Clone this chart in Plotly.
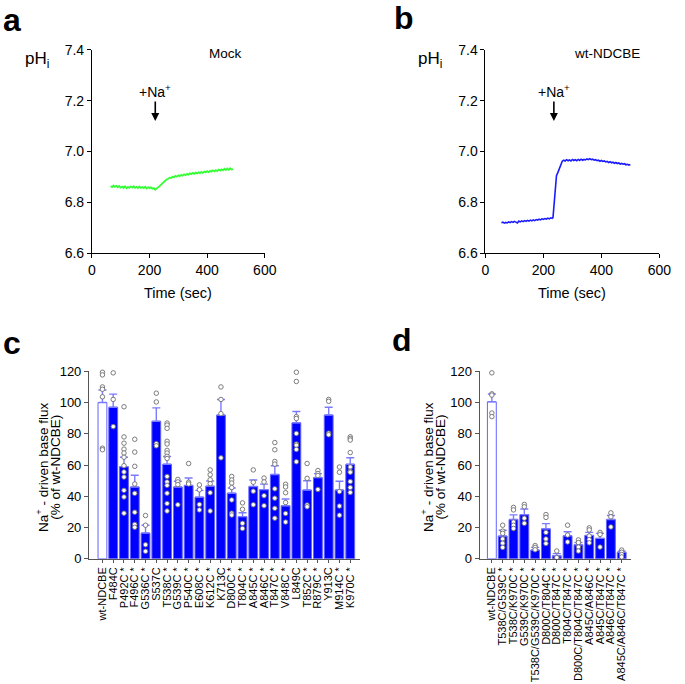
import plotly.graph_objects as go

W, H = 685, 684
FONT = "Liberation Sans, Arial, sans-serif"

# ---------------- Panel a / b : pHi traces ----------------
mock_t = list(range(65, 495, 5))
mock_ph = [6.864, 6.860, 6.866, 6.861, 6.865, 6.859, 6.864, 6.858, 6.862, 6.857,
           6.863, 6.856, 6.861, 6.857, 6.862, 6.858, 6.863, 6.857, 6.861, 6.856,
           6.862, 6.857, 6.860, 6.856, 6.861, 6.855, 6.860, 6.856, 6.859, 6.854,
           6.856, 6.850, 6.855, 6.858, 6.864, 6.870, 6.876, 6.882, 6.886, 6.891,
           6.893, 6.897, 6.896, 6.901, 6.899, 6.904, 6.901, 6.906, 6.903, 6.908,
           6.905, 6.910, 6.907, 6.912, 6.909, 6.914, 6.911, 6.916, 6.912, 6.917,
           6.914, 6.918, 6.915, 6.920, 6.916, 6.921, 6.918, 6.923, 6.919, 6.924,
           6.921, 6.926, 6.922, 6.927, 6.923, 6.929, 6.925, 6.930, 6.926, 6.932,
           6.927, 6.933, 6.928, 6.934, 6.929, 6.931]

wt_t = [55, 60, 65, 70, 75, 80, 85, 90, 95, 100, 105, 110, 115, 120, 125, 130, 135,
        140, 145, 150, 155, 160, 165, 170, 175, 180, 185, 190, 195, 200, 205, 210,
        215, 220, 225, 230, 233, 237, 241, 245, 250, 255, 260, 265, 270, 275, 280,
        285, 290, 295, 300, 305, 310, 315, 320, 325, 330, 335, 340, 345, 350, 355,
        360, 365, 370, 375, 380, 385, 390, 395, 400, 405, 410, 415, 420, 425, 430,
        435, 440, 445, 450, 455, 460, 465, 470, 475, 480, 485, 490, 495, 500]
wt_ph = [6.720, 6.722, 6.718, 6.721, 6.719, 6.723, 6.720, 6.724, 6.721, 6.725,
         6.722, 6.719, 6.726, 6.723, 6.727, 6.724, 6.728, 6.725, 6.729, 6.726,
         6.730, 6.727, 6.731, 6.728, 6.732, 6.730, 6.734, 6.731, 6.735, 6.733,
         6.736, 6.734, 6.738, 6.735, 6.739, 6.737, 6.740, 6.790, 6.850, 6.905,
         6.918, 6.935, 6.952, 6.962, 6.966, 6.963, 6.968, 6.964, 6.967, 6.963,
         6.969, 6.965, 6.968, 6.964, 6.969, 6.965, 6.970, 6.966, 6.969, 6.967,
         6.971, 6.968, 6.972, 6.968, 6.970, 6.966, 6.968, 6.964, 6.966, 6.962,
         6.965, 6.961, 6.963, 6.959, 6.961, 6.957, 6.960, 6.956, 6.958, 6.954,
         6.957, 6.953, 6.955, 6.951, 6.953, 6.950, 6.952, 6.948, 6.950, 6.947, 6.949]

time_ticks = [0, 200, 400, 600]
ph_ticks = [6.6, 6.8, 7.0, 7.2, 7.4]

# ---------------- Panel c ----------------
c_labels = ["wt-NDCBE", "F484C", "P492C *", "F496C *", "G536C *", "S537C", "T538C *",
            "G539C *", "P540C *", "E608C *", "K612C *", "K713C", "D800C *", "T804C *",
            "A845C *", "A846C *", "T847C *", "V848C *", "L849C", "T852C *", "R879C *",
            "Y913C", "M914C *", "K970C *"]
c_means = [100, 97, 59, 46, 16.5, 88, 60.5, 46, 47, 39.5, 46.5, 92, 42, 27, 46.3,
           44.3, 54, 34, 87, 44, 52, 92, 44, 60.5]
c_sem = [8, 8.4, 6, 7.5, 5, 8.6, 5, 3.6, 4.7, 4.3, 3.3, 10, 3.3, 2.5, 4.1, 3.5, 5.6,
         4.3, 7.3, 6, 2.5, 5, 5.6, 4.2]
c_points = [
    [119.4, 117.7, 110, 108.5, 103.7, 70.8, 69.8],
    [119, 102, 84.6],
    [97.3, 78, 74, 70.2, 67.7, 65, 59.6, 55.6, 52.3, 43.8, 39.6, 29.2],
    [76.5, 68.3, 59.2, 47.9, 41.9, 29.8, 22, 20.2],
    [27.7, 21.5, 9, 4.8],
    [106, 100.4, 73.7, 72.3],
    [86.9, 85.6, 83.5, 75.2, 73.5, 69.4, 67.7, 65.6, 64.2, 52.7, 49.2, 47, 42, 35.4, 30.6],
    [50.8, 49.2, 47.5, 34.6],
    [61, 49, 47.9],
    [47.3, 44.2, 34.8, 31.3],
    [56.9, 53.8, 50.6, 48.1, 42.3, 30.6],
    [110, 102, 92.9, 64.6],
    [52.7, 50.4, 48.5, 45.6, 37.7, 29.2, 28],
    [35.8, 31.7, 22.7, 19.4],
    [56.9, 49, 43.3, 34.6],
    [51.7, 49.2, 40.4, 34],
    [74.4, 69.8, 62.3, 60.6, 44.8, 38.8, 32.3, 26],
    [47.7, 46, 42.3, 36, 29, 23.5],
    [119.4, 113.5, 91, 89.8, 80.2, 73.5, 72.7, 70, 62.1],
    [61, 51.5, 34.4, 33.3],
    [56.5, 54.6, 53.3, 44.4],
    [102, 100.8, 80.4, 79.4],
    [58.75, 55.4, 43, 33.75, 27.9],
    [78.1, 77, 76, 68, 58.75, 56, 55.4, 49.4, 45.6, 42.5],
]

# ---------------- Panel d ----------------
d_labels = ["wt-NDCBE", "T538C/G539C *", "T538C/K970C *", "G539C/K970C *",
            "T538C/G539C/K970C *", "D800C/T804C *", "D800C/T847C *", "T804C/T847C *",
            "D800C/T804C/T847C *", "A845C/A846C *", "A845C/T847C *", "A846C/T847C *",
            "A845C/A846C/T847C *"]
d_means = [100.5, 14.6, 25.2, 28.3, 5.6, 19.2, 2, 14.8, 9, 15, 13.1, 25.2, 4.2]
d_sem = [5, 3.7, 2.9, 3.6, 1.7, 3.3, 1.3, 2.5, 1.4, 1.9, 3.2, 2.5, 0.6]
d_points = [
    [119, 105.6, 104.8, 93.3, 91],
    [21.5, 17.7, 16.3, 12.7, 10, 7.3],
    [32.9, 31.3, 23.5, 21.5, 19.4],
    [34.8, 33.3, 26, 22.7],
    [8.5, 7.3, 5.8],
    [28.3, 26.5, 16.9, 12.7, 9.8],
    [5, 0.8],
    [21.5, 15.2, 10.8],
    [12.1, 10.4, 7.5, 5],
    [19.8, 18.5, 14.6, 12.3, 10.2],
    [16.9, 15.6, 7.5],
    [29.4, 26.9, 20.4],
    [5.6, 4.2, 2.7, 1.2],
]
flux_ticks = [0, 20, 40, 60, 80, 100, 120]

# ---------------- helpers ----------------
def px_x(p):
    return p / W

def px_y(p):
    return 1 - p / H

BLUE = "#0000ff"
EDGE = "#6464ff"
ERR = "#7b7bff"
AXC = "#555555"

fig = go.Figure()

# traces a, b
fig.add_trace(go.Scatter(x=mock_t, y=mock_ph, mode="lines",
                         line=dict(color="#33ff33", width=1.8),
                         xaxis="x", yaxis="y", showlegend=False))
fig.add_trace(go.Scatter(x=wt_t, y=wt_ph, mode="lines",
                         line=dict(color="#1a1aff", width=1.6),
                         xaxis="x2", yaxis="y2", showlegend=False))


def add_bar_panel(labels, means, sem, points, xa, ya):
    n = len(labels)
    idx = list(range(n))
    fills = ["white"] + [BLUE] * (n - 1)
    fig.add_trace(go.Bar(
        x=idx, y=means, width=0.82,
        marker=dict(color=fills, line=dict(color=EDGE, width=1)),
        error_y=dict(type="data", symmetric=False, array=sem,
                     arrayminus=[0] * n, color=ERR, thickness=1.4, width=4),
        xaxis=xa, yaxis=ya, showlegend=False))
    px_, py_ = [], []
    for i, pts in enumerate(points):
        for v in pts:
            px_.append(i)
            py_.append(v)
    fig.add_trace(go.Scatter(
        x=px_, y=py_, mode="markers",
        marker=dict(symbol="circle", size=4.5, color="white",
                    line=dict(color="#6e6e6e", width=0.9)),
        xaxis=xa, yaxis=ya, showlegend=False, cliponaxis=False))


add_bar_panel(c_labels, c_means, c_sem, c_points, "x3", "y3")
add_bar_panel(d_labels, d_means, d_sem, d_points, "x4", "y4")

tick_font = dict(family=FONT, size=14, color="black")
time_axis = dict(range=[0, 600], tickvals=time_ticks, ticks="outside", ticklen=4,
                 tickcolor="black", showline=True, linecolor="black", linewidth=1,
                 showgrid=False, zeroline=False, tickfont=tick_font)
ph_axis = dict(range=[6.6, 7.4], tickvals=ph_ticks, tickformat=".1f", ticks="outside",
               ticklen=4, tickcolor="black", showline=True, linecolor="black",
               linewidth=1, showgrid=False, zeroline=False, tickfont=tick_font)

yab = [px_y(251), px_y(43)]
ycd = [px_y(564), px_y(372)]

cat_font = dict(family=FONT, size=11, color="black")
flux_axis = dict(range=[0, 120], tickvals=flux_ticks, ticks="outside", ticklen=4,
                 tickcolor=AXC, showline=True, linecolor=AXC, linewidth=1,
                 showgrid=False, zeroline=False,
                 tickfont=dict(family=FONT, size=13, color="black"))

fig.update_layout(
    width=W, height=H, margin=dict(l=0, r=0, t=0, b=0),
    paper_bgcolor="white", plot_bgcolor="white",
    font=dict(family=FONT, color="black"),
    bargap=0.1,
    xaxis=dict(domain=[px_x(90), px_x(267)], anchor="y", **time_axis),
    yaxis=dict(domain=yab, anchor="x", **ph_axis),
    xaxis2=dict(domain=[px_x(493), px_x(671)], anchor="y2", **time_axis),
    yaxis2=dict(domain=yab, anchor="x2", **ph_axis),
    xaxis3=dict(domain=[px_x(87), px_x(365)], anchor="y3", range=[-1.25, 23.95],
                tickvals=list(range(len(c_labels))), ticktext=c_labels,
                tickangle=-90, ticks="outside", ticklen=3, tickcolor=AXC,
                showline=True, linecolor=AXC, linewidth=1, showgrid=False,
                zeroline=False, tickfont=cat_font),
    yaxis3=dict(domain=ycd, anchor="x3", **flux_axis),
    xaxis4=dict(domain=[px_x(487), px_x(642)], anchor="y4", range=[-1.13, 12.86],
                tickvals=list(range(len(d_labels))), ticktext=d_labels,
                tickangle=-90, ticks="outside", ticklen=3, tickcolor=AXC,
                showline=True, linecolor=AXC, linewidth=1, showgrid=False,
                zeroline=False, tickfont=cat_font),
    yaxis4=dict(domain=ycd, anchor="x4", **flux_axis),
)

ann = []
# panel letters
for letter, x, y in [("a", -3, 12), ("b", 397, 10), ("c", -3, 343), ("d", 395, 340)]:
    ann.append(dict(text="<b>%s</b>" % letter, x=px_x(x), y=px_y(y), xref="paper",
                    yref="paper", xanchor="left", yanchor="middle", showarrow=False,
                    font=dict(family=FONT, size=32, color="black")))
# pHi labels
for x in (19, 422):
    ann.append(dict(text="pH<sub>i</sub>", x=px_x(x), y=px_y(53), xref="paper",
                    yref="paper", xanchor="left", yanchor="middle", showarrow=False,
                    font=dict(family=FONT, size=17, color="black")))
# Time titles
for x in (178.5, 582):
    ann.append(dict(text="Time (sec)", x=px_x(x), y=px_y(292), xref="paper",
                    yref="paper", xanchor="center", yanchor="middle", showarrow=False,
                    font=dict(family=FONT, size=14.5, color="black")))
# condition labels
ann.append(dict(text="Mock", x=463, y=7.385, xref="x", yref="y", showarrow=False,
                font=dict(family=FONT, size=13.5, color="black")))
ann.append(dict(text="wt-NDCBE", x=420, y=7.385, xref="x2", yref="y2", showarrow=False,
                font=dict(family=FONT, size=13.5, color="black")))
# +Na+ arrows (text with arrow pointing down to the application time)
for xr, yr, xv in (("x", "y", 220), ("x2", "y2", 236)):
    ann.append(dict(text="+Na<sup>+</sup>", x=xv, y=7.12, xref=xr, yref=yr,
                    ax=0, ay=-30, showarrow=True, arrowhead=2, arrowsize=1,
                    arrowwidth=1.6, arrowcolor="black", standoff=0,
                    font=dict(family=FONT, size=14, color="black")))
# flux y titles (two lines each)
for x1, x2 in ((39, 52), (433, 446)):
    ann.append(dict(text="Na<sup>+</sup> - driven base flux", x=px_x(x1), y=px_y(470),
                    xref="paper", yref="paper", textangle=-90, showarrow=False,
                    xanchor="center", yanchor="middle",
                    font=dict(family=FONT, size=13.5, color="black")))
    ann.append(dict(text="(% of wt-NDCBE)", x=px_x(x2), y=px_y(470),
                    xref="paper", yref="paper", textangle=-90, showarrow=False,
                    xanchor="center", yanchor="middle",
                    font=dict(family=FONT, size=13.5, color="black")))

fig.update_layout(annotations=ann)
fig.write_html("out.html", config={"displayModeBar": False},
               post_script="document.body.style.margin='0';document.body.style.padding='0';")
